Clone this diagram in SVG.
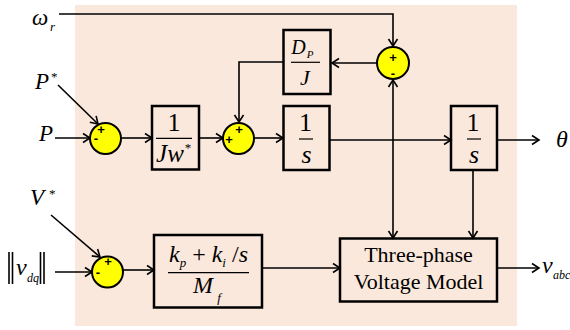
<svg xmlns="http://www.w3.org/2000/svg" width="570" height="330" viewBox="0 0 570 330">
<defs>
<marker id="ah" markerWidth="12" markerHeight="12" refX="9" refY="6" orient="auto" markerUnits="userSpaceOnUse">
<path d="M2,1.5 L9,6 L2,10.5" fill="none" stroke="#000" stroke-width="1.6"/>
</marker>
</defs>
<style>
.blk{fill:none;stroke:#000;stroke-width:2.5}
.sum{fill:#FFFF00;stroke:#000;stroke-width:2}
.ln{fill:none;stroke:#000;stroke-width:1.6}
.fr{stroke:#000;stroke-width:1.2}
.t{font-family:"Liberation Serif","Times New Roman",serif;fill:#000}
.i{font-style:italic}
.sg{font-family:"Liberation Sans",Arial,sans-serif;font-size:13px;font-weight:bold;text-anchor:middle;fill:#000}
</style>
<rect x="75" y="5" width="442" height="321" fill="#FBE8DC"/>

<g id="connectors">
<polyline class="ln" points="59,14 393,14 393,46" marker-end="url(#ah)"/>
<line class="ln" x1="377" y1="63" x2="332" y2="63" marker-end="url(#ah)"/>
<polyline class="ln" points="283,62 239,62 239,122" marker-end="url(#ah)"/>
<line class="ln" x1="58" y1="85" x2="98" y2="124" marker-end="url(#ah)"/>
<line class="ln" x1="55" y1="138" x2="90" y2="138" marker-end="url(#ah)"/>
<line class="ln" x1="121" y1="138" x2="152" y2="138" marker-end="url(#ah)"/>
<line class="ln" x1="199" y1="138" x2="223" y2="138" marker-end="url(#ah)"/>
<line class="ln" x1="254" y1="138" x2="283" y2="138" marker-end="url(#ah)"/>
<line class="ln" x1="329" y1="140" x2="451" y2="140" marker-end="url(#ah)"/>
<line class="ln" x1="393" y1="140" x2="393" y2="80" marker-end="url(#ah)"/>
<line class="ln" x1="393" y1="140" x2="393" y2="238" marker-end="url(#ah)"/>
<line class="ln" x1="497" y1="140" x2="539" y2="140" marker-end="url(#ah)"/>
<line class="ln" x1="473" y1="170" x2="473" y2="238" marker-end="url(#ah)"/>
<line class="ln" x1="51" y1="215" x2="100" y2="257" marker-end="url(#ah)"/>
<line class="ln" x1="55" y1="272" x2="92" y2="272" marker-end="url(#ah)"/>
<line class="ln" x1="123" y1="270" x2="154" y2="270" marker-end="url(#ah)"/>
<line class="ln" x1="262" y1="268" x2="340" y2="268" marker-end="url(#ah)"/>
<line class="ln" x1="497" y1="268" x2="539" y2="268" marker-end="url(#ah)"/>
</g>

<g id="sum1">
<circle class="sum" cx="105.5" cy="138.5" r="15.5"/>
<text class="sg" x="101" y="134">+</text>
<text class="sg" x="96" y="143">-</text>
</g>
<g id="sum2">
<circle class="sum" cx="238.5" cy="138.5" r="15.5"/>
<text class="sg" x="239" y="134">+</text>
<text class="sg" x="229" y="144">+</text>
</g>
<g id="sum3">
<circle class="sum" cx="393" cy="63" r="16"/>
<text class="sg" x="393" y="62">+</text>
<text class="sg" x="393" y="78">-</text>
</g>
<g id="sum4">
<circle class="sum" cx="107.5" cy="272" r="15.5"/>
<text class="sg" x="108" y="266">+</text>
<text class="sg" x="98" y="277">-</text>
</g>

<g id="blkJw">
<rect class="blk" x="152" y="106" width="47" height="63.5"/>
<text class="t" x="174" y="131" font-size="26" text-anchor="middle">1</text>
<line class="fr" x1="156" y1="138.3" x2="192" y2="138.3"/>
<text class="t i" x="170" y="161.5" font-size="25" text-anchor="middle">Jw</text>
<text class="t" x="188" y="152" font-size="13" text-anchor="middle">*</text>
</g>
<g id="blkDJ">
<rect class="blk" x="283.5" y="30" width="47" height="64"/>
<text class="t i" x="298.5" y="53.5" font-size="20" text-anchor="middle">D</text>
<text class="t i" x="310" y="57.5" font-size="11" text-anchor="middle">P</text>
<line class="fr" x1="291" y1="62.3" x2="320" y2="62.3"/>
<text class="t i" x="305" y="85" font-size="22" text-anchor="middle">J</text>
</g>
<g id="blkS1">
<rect class="blk" x="283.5" y="106" width="46" height="64"/>
<text class="t" x="305.5" y="131" font-size="26" text-anchor="middle">1</text>
<line class="fr" x1="299" y1="139" x2="313" y2="139"/>
<text class="t i" x="306.5" y="162.7" font-size="26" text-anchor="middle">s</text>
</g>
<g id="blkS2">
<rect class="blk" x="451" y="106" width="46" height="64"/>
<text class="t" x="473" y="131" font-size="26" text-anchor="middle">1</text>
<line class="fr" x1="467" y1="139" x2="481" y2="139"/>
<text class="t i" x="474" y="162.7" font-size="26" text-anchor="middle">s</text>
</g>
<g id="blkPI">
<rect class="blk" x="154" y="235" width="108" height="72.5"/>
<text class="t i" x="208.5" y="261.7" font-size="24" text-anchor="middle">k<tspan font-size="13" dy="5">p</tspan><tspan font-style="normal" dy="-5"> + </tspan>k<tspan font-size="13" dy="5">i</tspan><tspan font-style="normal" dy="-5"> /</tspan>s</text>
<line class="fr" x1="168" y1="272.7" x2="249" y2="272.7"/>
<text class="t i" x="203" y="293.3" font-size="24" text-anchor="middle">M</text>
<text class="t i" x="219" y="302" font-size="13" text-anchor="middle">f</text>
</g>
<g id="blkTP">
<rect class="blk" x="340" y="238.5" width="157" height="63"/>
<text class="t" x="418.5" y="261.7" font-size="22" text-anchor="middle">Three-phase</text>
<text class="t" x="418.5" y="289" font-size="22" text-anchor="middle">Voltage Model</text>
</g>

<g id="labels">
<text class="t i" x="32" y="25" font-size="23">ω</text>
<text class="t i" x="50" y="31" font-size="13">r</text>
<text class="t i" x="35" y="88.5" font-size="23">P</text>
<text class="t" x="51" y="81" font-size="13">*</text>
<text class="t i" x="39" y="140.5" font-size="23">P</text>
<text class="t i" x="556" y="147" font-size="24">θ</text>
<text class="t i" x="30" y="205" font-size="23">V</text>
<text class="t" x="49" y="198" font-size="13">*</text>
<line class="ln" x1="9" y1="252" x2="9" y2="284"/>
<line class="ln" x1="12.5" y1="252" x2="12.5" y2="284"/>
<text class="t i" x="16" y="275" font-size="24">v</text>
<text class="t i" x="27" y="281.5" font-size="12">dq</text>
<line class="ln" x1="40.5" y1="252" x2="40.5" y2="284"/>
<line class="ln" x1="44" y1="252" x2="44" y2="284"/>
<text class="t i" x="542" y="273" font-size="24">v</text>
<text class="t i" x="553" y="278.5" font-size="12">abc</text>
</g>
</svg>
